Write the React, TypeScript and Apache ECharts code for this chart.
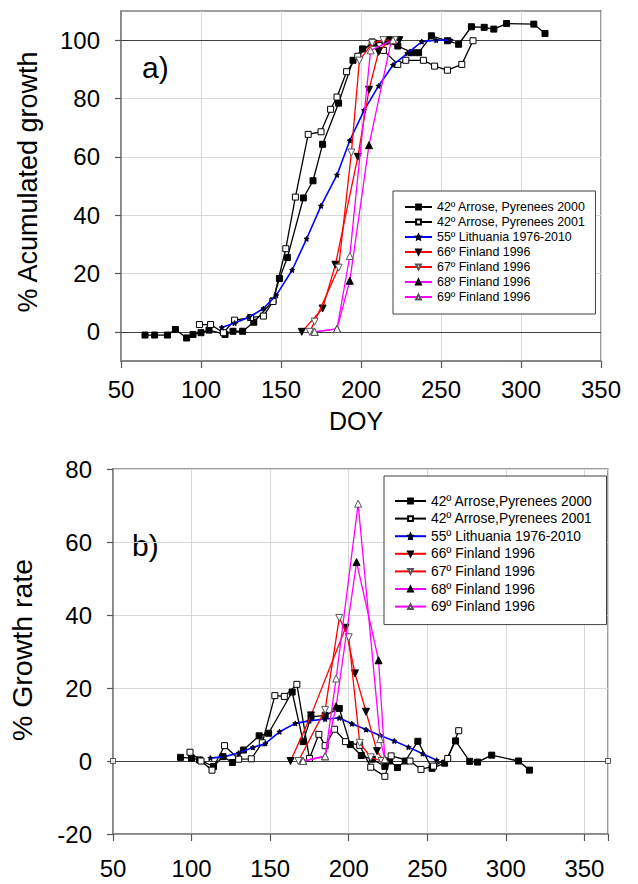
import React, { useEffect, useRef } from 'react';
import * as echarts from 'echarts';

// ---------- tick labels ----------
const X_TICKS = [50, 100, 150, 200, 250, 300, 350];
const Y_TICKS_A = [0, 20, 40, 60, 80, 100];
const Y_TICKS_B = [-20, 0, 20, 40, 60, 80];

// ---------- series names ----------
const NAMES_A = [
  '42º Arrose, Pyrenees 2000',
  '42º Arrose, Pyrenees 2001',
  '55º Lithuania 1976-2010',
  '66º Finland 1996',
  '67º Finland 1996',
  '68º Finland 1996',
  '69º Finland 1996',
];
const NAMES_B = [
  '42º Arrose,Pyrenees 2000',
  '42º Arrose,Pyrenees 2001',
  '55º Lithuania 1976-2010',
  '66º Finland 1996',
  '67º Finland 1996',
  '68º Finland 1996',
  '69º Finland 1996',
];

// ---------- a) % accumulated growth [DOY, value] ----------
const A_PYR2000 = [
  [65, -1.1], [71, -1.1], [79, -1.1], [84, 0.8], [91, -2.1], [95, -0.9], [100, -0.3], [105, 0.6],
  [115, -0.9], [120, 0.2], [126, 0.2], [133, 3.3], [145, 10.6], [149, 18.3], [154, 25.5],
  [164, 45.9], [170, 51.8], [176, 64.3], [186, 78.4], [195, 93.1], [201, 97.0], [208, 99.0],
  [215, 99.5], [223, 98.0], [232, 95.7], [236, 95.7], [244, 101.5], [254, 99.8], [261, 98.6],
  [269, 104.6], [277, 104.4], [283, 103.8], [291, 105.7], [308, 105.5], [315, 102.3],
];
const A_PYR2001 = [
  [99, 2.5], [106, 2.5], [114, -0.3], [121, 4.0], [131, 4.9], [139, 5.4], [145, 10.4],
  [153, 28.5], [159, 46.2], [167, 67.7], [175, 68.6], [181, 76.3], [185, 80.5], [191, 89.2],
  [198, 94.5], [207, 99.4], [214, 96.5], [223, 91.7], [228, 93.1], [239, 93.1], [246, 91.1],
  [254, 89.7], [263, 91.7], [270, 99.8],
];
const A_LITH = [
  [113, 1.5], [121, 3.0], [130, 5.0], [139, 8.0], [147, 12.5], [157, 21.2], [166, 31.9],
  [175, 43.2], [185, 53.8], [193, 65.6], [202, 76.0], [211, 84.3], [220, 91.5], [229, 95.5],
  [238, 99.5], [247, 100], [256, 100],
];
const A_FIN66 = [[163, 0], [176, 8], [184, 23], [198, 60], [205, 83], [211, 96], [218, 100], [224, 100]];
const A_FIN67 = [[168, 0], [171, 3.5], [186, 22], [194, 61.5], [199, 93], [207, 99], [214, 100], [221, 100]];
const A_FIN68 = [[171, 0], [185, 1], [193, 17.5], [205, 64], [219, 100]];
const A_FIN69 = [[171, 0], [185, 1], [193, 26], [206, 96.5], [220, 100]];

// ---------- b) % growth rate [DOY, value] ----------
const B_PYR2000 = [
  [93, 1.0], [100, 0.8], [105, 0.3], [114, -1.5], [120, 1.2], [126, -0.4], [133, 3.0],
  [143, 6.9], [149, 7.6], [164, 18.9], [171, 5.3], [176, 12.1], [185, 12.5], [194, 14.4],
  [201, 4.5], [208, 1.5], [215, 0.5], [223, -1.5], [226, 0], [231, -1.8], [236, 0], [244, 5.4],
  [253, -2.0], [261, -0.6], [268, 5.5], [277, -0.1], [282, -0.3], [291, 1.6], [308, 0],
  [315, -2.5],
];
const B_PYR2001 = [
  [99, 2.4], [106, 0], [113, -2.5], [121, 4.2], [130, 0.5], [138, 0.6], [145, 5.0],
  [153, 17.9], [159, 17.7], [167, 21.0], [175, 0.7], [181, 7.3], [185, 4.2], [191, 8.7],
  [198, 5.3], [207, 4.3], [214, -1.7], [223, -4.2], [227, 1.4], [239, 0], [246, -2.3],
  [254, -1.4], [263, 0.7], [270, 8.3],
];
const B_LITH = [
  [112, 0.8], [121, 1.2], [130, 2.2], [139, 3.7], [147, 4.8], [156, 8.0], [166, 10.3],
  [175, 11.0], [185, 11.5], [194, 11.8], [202, 10.2], [211, 8.6], [220, 7.0], [229, 5.5],
  [238, 3.8], [247, 2.0], [256, 0.2],
];
const B_FIN66 = [[163, 0], [176, 12.5], [198, 36.5], [204, 24], [211, 13.5], [218, 2.7], [222, 0]];
const B_FIN67 = [[168, 0], [185, 14], [194, 39.2], [200, 33.9], [207, 5], [214, 1], [221, 0]];
const B_FIN68 = [[171, 0], [185, 1.3], [192, 15], [205, 54.5], [219, 27.6], [223, 0.5]];
const B_FIN69 = [[171, 0], [185, 1.3], [192, 22.6], [206, 70.5], [220, 6], [223, 0.5]];
const B_ENDS = [[50, 0], [365, 0]];

const A_DATA = [A_PYR2000, A_PYR2001, A_LITH, A_FIN66, A_FIN67, A_FIN68, A_FIN69];
const B_DATA = [B_PYR2000, B_PYR2001, B_LITH, B_FIN66, B_FIN67, B_FIN68, B_FIN69];

// ---------- styles ----------
const FONT = '"Liberation Sans", Arial, sans-serif';
const STAR = 'path://M0,-10L2.9,-4L9.5,-3.1L4.8,1.5L5.9,8.1L0,5L-5.9,8.1L-4.8,1.5L-9.5,-3.1L-2.9,-4Z';
const DOWN = 'path://M0,0L10,0L5,9Z';
const STYLES = [
  { line: '#000000', symbol: 'rect', fill: '#000000', border: '#000000', size: 6, width: 1.3 },
  { line: '#000000', symbol: 'rect', fill: '#ffffff', border: '#000000', size: 6, width: 1.3 },
  { line: '#0000ff', symbol: STAR, fill: '#000022', border: '#000022', size: 5, width: 1.6 },
  { line: '#ff0000', symbol: DOWN, fill: '#000000', border: '#000000', size: 7, width: 1.3 },
  { line: '#ff0000', symbol: DOWN, fill: '#ffffff', border: '#555555', size: 7, width: 1.3 },
  { line: '#ff00ff', symbol: 'triangle', fill: '#000000', border: '#000000', size: 7, width: 1.3 },
  { line: '#ff00ff', symbol: 'triangle', fill: '#ffffff', border: '#555555', size: 7, width: 1.3 },
];

const GRID_COLOR = '#d9d9d9';
const BORDER_COLOR = '#7f7f7f';
const ZERO_COLOR = '#404040';

function makeSeries(names: string[], data: number[][][], idx: number, refLines: number[]) {
  return names.map((name, i) => {
    const st = STYLES[i];
    const s: any = {
      type: 'line',
      name,
      xAxisIndex: idx,
      yAxisIndex: idx,
      data: data[i],
      color: st.line,
      symbol: st.symbol,
      symbolSize: st.size,
      showAllSymbol: true,
      lineStyle: { color: st.line, width: st.width },
      itemStyle: { color: st.fill, borderColor: st.border, borderWidth: 1 },
      emphasis: { disabled: true },
      z: 3 + i,
    };
    if (i === 0) {
      s.markLine = {
        silent: true,
        symbol: 'none',
        label: { show: false },
        lineStyle: { color: ZERO_COLOR, width: 1, type: 'solid' },
        data: refLines.map((v) => ({ yAxis: v })),
        z: 2,
      };
    }
    return s;
  });
}

function xAxis(gridIndex: number, max: number, margin: number) {
  return {
    type: 'value',
    gridIndex,
    min: 50,
    max,
    interval: 50,
    axisLine: { onZero: false, lineStyle: { color: BORDER_COLOR, width: 1.5 } },
    axisTick: { length: 7, lineStyle: { color: '#555555', width: 1.2 } },
    axisLabel: {
      margin,
      fontSize: 24,
      color: '#000',
      fontFamily: FONT,
      formatter: (v: number) => (X_TICKS.includes(v) ? String(v) : ''),
    },
    splitLine: { show: true, lineStyle: { color: GRID_COLOR, width: 1 } },
  };
}

function yAxis(gridIndex: number, min: number, max: number, ticks: number[], extra: any) {
  return {
    type: 'value',
    gridIndex,
    min,
    max,
    ...extra,
    axisLine: { onZero: false, show: true, lineStyle: { color: BORDER_COLOR, width: 1.5 } },
    axisTick: { show: true, length: 6, customValues: ticks, lineStyle: { color: '#555555', width: 1.2 } },
    axisLabel: {
      margin: 21,
      fontSize: 24,
      color: '#000',
      fontFamily: FONT,
      customValues: ticks,
      formatter: (v: number) => (ticks.includes(v) ? String(v) : ''),
    },
    splitLine: { show: true, lineStyle: { color: GRID_COLOR, width: 1 } },
  };
}

function legend(names: string[], left: number, top: number, fontSize: number, itemWidth: number, itemGap: number, padding: number[]) {
  return {
    orient: 'vertical',
    left,
    top,
    data: names,
    itemWidth,
    itemHeight: 6,
    itemGap,
    padding,
    borderColor: '#404040',
    borderWidth: 1,
    backgroundColor: '#ffffff',
    selectedMode: false,
    textStyle: { fontSize, color: '#000', fontFamily: FONT },
  };
}

function buildOption(): any {
  return {
    animation: false,
    backgroundColor: '#ffffff',
    grid: [
      { left: 121, top: 11, width: 480, height: 350, show: true, borderColor: BORDER_COLOR, borderWidth: 1.5 },
      { left: 113, top: 469, width: 495, height: 365, show: true, borderColor: BORDER_COLOR, borderWidth: 1.5 },
    ],
    xAxis: [xAxis(0, 350, 16), xAxis(1, 365, 22)],
    yAxis: [
      yAxis(0, -10, 110, Y_TICKS_A, { splitNumber: 6 }),
      yAxis(1, -20, 80, Y_TICKS_B, { interval: 20 }),
    ],
    legend: [
      legend(NAMES_A, 393, 191, 12.4, 27, 3, [10, 10, 11, 11]),
      legend(NAMES_B, 384, 476, 13.8, 31, 3.6, [18, 14, 11, 10]),
    ],
    series: [
      ...makeSeries(NAMES_A, A_DATA, 0, [0, 100]),
      ...makeSeries(NAMES_B, B_DATA, 1, [0]),
      {
        type: 'scatter',
        name: 'axis-ends',
        xAxisIndex: 1,
        yAxisIndex: 1,
        data: B_ENDS,
        symbol: 'rect',
        symbolSize: 5,
        itemStyle: { color: '#ffffff', borderColor: '#333333', borderWidth: 1 },
        z: 10,
      },
    ],
    graphic: [
      {
        type: 'text', x: 28, y: 182, rotation: Math.PI / 2,
        style: { text: '% Acumulated growth', fontSize: 27, fontFamily: FONT, fill: '#000', align: 'center', verticalAlign: 'middle' },
      },
      {
        type: 'text', x: 22, y: 650, rotation: Math.PI / 2,
        style: { text: '% Growth rate', fontSize: 28.5, fontFamily: FONT, fill: '#000', align: 'center', verticalAlign: 'middle' },
      },
      {
        type: 'text', x: 356, y: 421,
        style: { text: 'DOY', fontSize: 25, fontFamily: FONT, fill: '#000', align: 'center', verticalAlign: 'middle' },
      },
      {
        type: 'text', x: 142, y: 67,
        style: { text: 'a)', fontSize: 30, fontFamily: FONT, fill: '#000', align: 'left', verticalAlign: 'middle' },
      },
      {
        type: 'text', x: 132, y: 545,
        style: { text: 'b)', fontSize: 30, fontFamily: FONT, fill: '#000', align: 'left', verticalAlign: 'middle' },
      },
    ],
  };
}

export default function App() {
  const ref = useRef<HTMLDivElement>(null);
  useEffect(() => {
    if (!ref.current) return;
    const chart = echarts.init(ref.current, null, { renderer: 'svg' });
    chart.setOption(buildOption());
    return () => chart.dispose();
  }, []);
  return (
    <div
      ref={ref}
      style={{ position: 'absolute', left: 0, top: 0, width: 638, height: 884, background: '#ffffff' }}
    />
  );
}
